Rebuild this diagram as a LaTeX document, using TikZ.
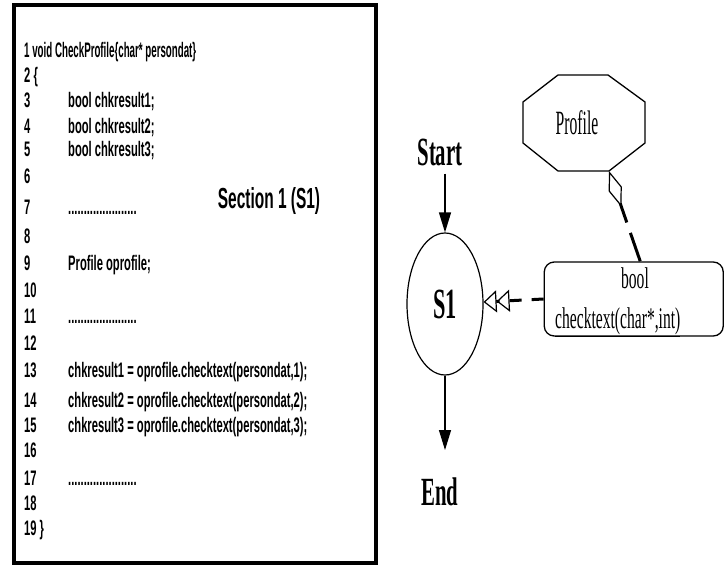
\documentclass[tikz,border=0pt]{standalone}
\usepackage{fontspec}
\setmainfont{Liberation Serif}
\newfontfamily\codefont[FakeStretch=0.533]{Liberation Sans}
\newfontfamily\labfont[FakeStretch=0.52]{Liberation Serif}
\newfontfamily\classfont[FakeStretch=0.46]{Liberation Serif}
\usetikzlibrary{arrows.meta,shapes.geometric}

\tikzset{
  codeline/.style={anchor=base west, inner sep=0pt,
    font={\codefont\bfseries\fontsize{21}{25}\selectfont}},
  sectionlabel/.style={inner sep=0pt,
    font={\codefont\bfseries\fontsize{29}{33}\selectfont}},
  termlabel/.style={anchor=base, inner sep=0pt,
    font={\labfont\bfseries\fontsize{40}{44}\selectfont}},
  classlabel/.style={inner sep=0pt,
    font={\labfont\fontsize{30}{34}\selectfont}},
  outline/.style={draw, line width=1.3pt},
  flow/.style={line width=1.2pt, -{Triangle[length=20pt,width=12pt]}},
  usesdep/.style={line width=3pt, dash pattern=on 12pt off 10pt,
    -{Triangle[open,length=13pt,width=22pt,line width=1.2pt,sep=0pt]
      Triangle[open,length=13pt,width=22pt,line width=1.2pt]}},
  aggdep/.style={line width=3pt, dash pattern=on 20pt off 11pt on 30pt off 5pt,
    {Diamond[open,length=38pt,width=14pt,line width=1.2pt]}-},
}

\begin{document}
\begin{tikzpicture}[x=1pt,y=-1pt]
\useasboundingbox (0,0) rectangle (725,567);

% code listing frame
\node[draw, line width=4pt, inner sep=0pt, minimum width=362.5pt,
      minimum height=558pt] (frame) at (194.75,284) {};

% listing lines
\node[codeline] (l1) at (24,58) {\scalebox{0.87}[1]{1 void CheckProfile\{char* persondat\}}};
\node[codeline] (l2) at (24,83) {2 \{};
\node[codeline] (n3) at (24,108) {3};
\node[codeline] (c3) at (68,108) {bool chkresult1;};
\node[codeline] (n4) at (24,133) {4};
\node[codeline] (c4) at (68,133) {bool chkresult2;};
\node[codeline] (n5) at (24,157) {5};
\node[codeline] (c5) at (68,157) {bool chkresult3;};
\node[codeline] (n6) at (24,183) {6};
\node[codeline] (n7) at (24,214) {7};
\node[codeline] (c7) at (68,214) {......................};
\node[codeline] (n8) at (24,243) {8};
\node[codeline] (n9) at (24,270) {9};
\node[codeline] (c9) at (68,270) {Profile oprofile;};
\node[codeline] (n10) at (24,297) {10};
\node[codeline] (n11) at (24,323) {11};
\node[codeline] (c11) at (68,323) {......................};
\node[codeline] (n12) at (24,350) {12};
\node[codeline] (n13) at (24,377) {13};
\node[codeline] (c13) at (68,377) {chkresult1 = oprofile.checktext(persondat,1);};
\node[codeline] (n14) at (24,407) {14};
\node[codeline] (c14) at (68,407) {chkresult2 = oprofile.checktext(persondat,2);};
\node[codeline] (n15) at (24,432) {15};
\node[codeline] (c15) at (68,432) {chkresult3 = oprofile.checktext(persondat,3);};
\node[codeline] (n16) at (24,457) {16};
\node[codeline] (n17) at (24,485) {17};
\node[codeline] (c17) at (68,485) {......................};
\node[codeline] (n18) at (24,510) {18};
\node[codeline] (l19) at (24,535) {19 \}};

\node[sectionlabel] (sec) at (269,201) {Section 1 (S1)};

% flow of section S1
\node[termlabel] (start) at (440,165) {Start};
\node[termlabel] (end) at (440,505) {End};
\node[outline, ellipse, line width=1.2pt, inner sep=0pt, minimum width=76pt,
      minimum height=142pt, font={\labfont\bfseries\fontsize{43}{46}\selectfont}]
      (s1) at (445,304) {S1};
\draw[flow, shorten <=8pt] (s1.north |- start.south) -- (s1.north);
\draw[flow, shorten >=27pt] (s1.south) -- (s1.south |- end.north);

% class Profile
\draw[outline] (558,75) -- (608,75) -- (645,102) -- (645,143) -- (609,171)
  -- (558,171) -- (523,143) -- (523,102) -- cycle;
\coordinate (pv) at (609,171);
\node[inner sep=0pt, anchor=base, font={\classfont\fontsize{34}{38}\selectfont}]
      (profile) at (577,135) {Profile};

% method checktext
\node[outline, rounded corners=10pt, inner sep=0pt, minimum width=179pt,
      minimum height=74pt] (meth) at (633.75,299) {};
\node[classlabel, anchor=base] (rtype) at (635,288) {bool};
\node[classlabel, anchor=base west] (msig) at (555,328) {\underline{checktext(char*,int)}};

\draw[aggdep] (pv) -- ([xshift=6.5pt]meth.north);
\draw[usesdep] (meth.west) -- (s1);
\end{tikzpicture}
\end{document}
